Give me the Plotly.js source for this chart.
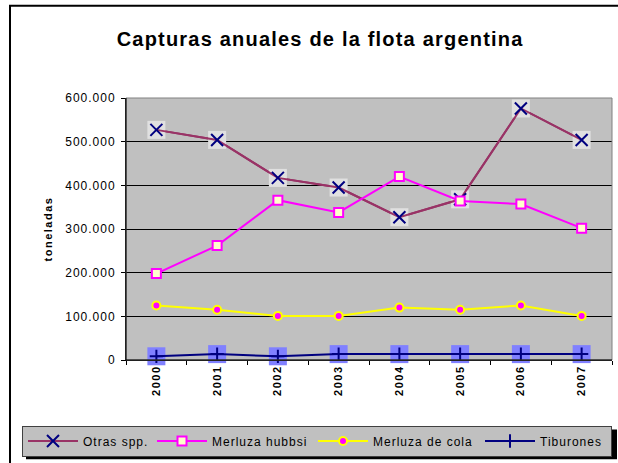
<!DOCTYPE html>
<html>
<head>
<meta charset="utf-8">
<script src="https://cdn.plot.ly/plotly-3.0.1.min.js"></script>
<style>
html,body{margin:0;padding:0;background:#fff;}
#chart{width:618px;height:463px;}
.gtitle{letter-spacing:1.2px;}
.legendtext{letter-spacing:1px;}
.ytick text{letter-spacing:1px;}
.xtick text{letter-spacing:1.5px;}
.ytitle{letter-spacing:1.5px;}
</style>
</head>
<body>
<div id="chart"></div>
<script>
// ---- data ----
var years = ['2000', '2001', '2002', '2003', '2004', '2005', '2006', '2007'];
var otrasSpp = [527000, 504000, 417000, 395000, 327000, 368000, 576000, 504000];
var merluzaHubbsi = [198000, 262000, 366000, 338000, 420000, 364000, 357000, 302000];
var merluzaCola = [125000, 115000, 101000, 101000, 120000, 115000, 125000, 101000];
var tiburones = [8500, 13500, 8500, 13500, 13500, 13500, 13500, 13500];
var seriesNames = ['Otras spp.', 'Merluza hubbsi', 'Merluza de cola', 'Tiburones'];
var yTicks = [0, 100000, 200000, 300000, 400000, 500000, 600000];

var FONT = '"Liberation Sans", Arial, sans-serif';

var traces = [
  // Otras spp.: line
  {x: years, y: otrasSpp, type: 'scatter', mode: 'lines', showlegend: false, hoverinfo: 'skip',
   cliponaxis: false,
   line: {color: '#993366', width: 2}},
  // Otras spp.: marker background squares
  {x: years, y: otrasSpp, type: 'scatter', mode: 'markers', showlegend: false, hoverinfo: 'skip',
   cliponaxis: false,
   marker: {symbol: 'square', size: 18, color: '#e0e0e0', line: {width: 0}}},
  // Otras spp.: X markers (legend entry)
  {x: years, y: otrasSpp, type: 'scatter', mode: 'lines+markers', name: seriesNames[0],
   legendwidth: 64, cliponaxis: false,
   line: {color: '#993366', width: 2},
   marker: {symbol: 'x-thin', size: 12, color: '#000080', line: {color: '#000080', width: 2}}},
  // Merluza hubbsi
  {x: years, y: merluzaHubbsi, type: 'scatter', mode: 'lines+markers', name: seriesNames[1],
   legendwidth: 96, cliponaxis: false,
   line: {color: '#ff00ff', width: 2},
   marker: {symbol: 'square', size: 9, color: '#ffffcc', line: {color: '#ff00ff', width: 2}}},
  // Merluza de cola
  {x: years, y: merluzaCola, type: 'scatter', mode: 'lines+markers', name: seriesNames[2],
   legendwidth: 102, cliponaxis: false,
   line: {color: '#ffff00', width: 2},
   marker: {symbol: 'circle', size: 8, color: '#ff00ff', line: {color: '#ffff00', width: 2}}},
  // Tiburones: background squares
  {x: years, y: tiburones, type: 'scatter', mode: 'markers', showlegend: false, hoverinfo: 'skip',
   cliponaxis: false,
   marker: {symbol: 'square', size: 18, color: '#8080ff', line: {width: 0}}},
  // Tiburones: + markers
  {x: years, y: tiburones, type: 'scatter', mode: 'lines+markers', name: seriesNames[3],
   legendwidth: 66, cliponaxis: false,
   line: {color: '#000080', width: 2},
   marker: {symbol: 'cross-thin', size: 9.5, color: '#000080', line: {color: '#000080', width: 2}}}
];

var layout = {
  width: 618, height: 463,
  margin: {l: 126, r: 6, t: 98, b: 101, pad: 0},
  paper_bgcolor: '#ffffff',
  plot_bgcolor: '#c0c0c0',
  font: {family: FONT, color: '#000000', size: 12},
  separators: ',.',
  title: {
    text: '<b>Capturas anuales de la flota argentina</b>',
    font: {family: FONT, size: 20, color: '#000000'},
    x: 0.518, xref: 'container', xanchor: 'center',
    y: 1 - 39 / 463, yref: 'container', yanchor: 'middle'
  },
  xaxis: {
    type: 'category',
    range: [-0.5, 7.5],
    showgrid: false, zeroline: false,
    showline: true, linecolor: '#000000', linewidth: 1,
    ticks: 'outside', tickson: 'boundaries', ticklen: 4, tickcolor: '#000000', tickwidth: 1,
    tickangle: -90,
    tickfont: {family: FONT, size: 11, color: '#000000', weight: 'bold'},
    automargin: false,
    fixedrange: true
  },
  yaxis: {
    range: [0, 600000],
    tickvals: yTicks,
    tickformat: ',d',
    showgrid: true, gridcolor: '#000000', gridwidth: 1,
    zeroline: false,
    showline: true, linecolor: '#000000', linewidth: 1,
    ticks: 'outside', ticklen: 4, tickcolor: '#000000', tickwidth: 1,
    ticklabelstandoff: 3,
    tickfont: {family: FONT, size: 12, color: '#000000'},
    title: {text: '<b>toneladas</b>', font: {family: FONT, size: 11, color: '#000000'}, standoff: 10},
    automargin: false,
    fixedrange: true
  },
  showlegend: true,
  legend: {
    orientation: 'h',
    x: (22 - 126) / 486, xanchor: 'left',
    y: (362 - 428) / 264, yanchor: 'top',
    bgcolor: '#c0c0c0', bordercolor: '#404040', borderwidth: 1,
    itemwidth: 50,
    font: {family: FONT, size: 12, color: '#000000'},
    traceorder: 'normal'
  },
  shapes: [
    // outer chart frame (extends past right/bottom edges)
    {type: 'rect', xref: 'paper', yref: 'paper', layer: 'above',
     x0: (10 - 126) / 486, x1: (640 - 126) / 486, y0: (362 - 480) / 264, y1: (362 - 5) / 264,
     line: {color: '#000000', width: 2}, fillcolor: 'rgba(0,0,0,0)'},
    // plot area border
    {type: 'rect', xref: 'paper', yref: 'paper', layer: 'above',
     x0: 0, x1: 1, y0: 0, y1: 1,
     line: {color: '#808080', width: 1}, fillcolor: 'rgba(0,0,0,0)'},
    // legend shadow
    {type: 'rect', xref: 'paper', yref: 'paper', layer: 'above',
     x0: (26 - 126) / 486, x1: (617 - 126) / 486, y0: (362 - 462) / 264, y1: (362 - 432) / 264,
     line: {width: 0}, fillcolor: '#000000'}
  ]
};

// redraw axis lines on top of the border
layout.shapes.push(
  {type: 'line', xref: 'paper', yref: 'paper', layer: 'above', x0: 0, x1: 0, y0: 0, y1: 1,
   line: {color: '#000000', width: 1}},
  {type: 'line', xref: 'paper', yref: 'paper', layer: 'above', x0: 0, x1: 1, y0: 0, y1: 0,
   line: {color: '#000000', width: 1}}
);

Plotly.newPlot('chart', traces, layout, {displayModeBar: false, staticPlot: true});
</script>
</body>
</html>
